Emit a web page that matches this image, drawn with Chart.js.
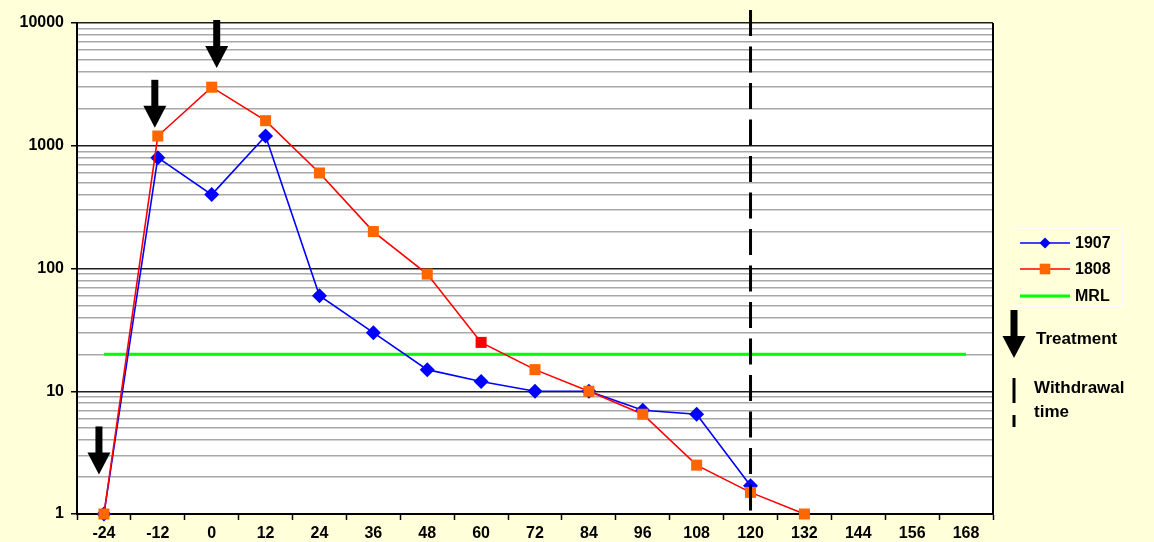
<!DOCTYPE html>
<html>
<head>
<meta charset="utf-8">
<script src="https://cdn.jsdelivr.net/npm/chart.js"></script>
<style>
  html, body { margin: 0; padding: 0; background: #FFFFDA; }
  #wrap { width: 1154px; height: 542px; }
</style>
</head>
<body>
<div id="wrap"><canvas id="residues" width="1154" height="542"></canvas></div>
<script>
// hours relative to last treatment
const hours = ['-24', '-12', '0', '12', '24', '36', '48', '60', '72', '84', '96', '108', '120', '132', '144', '156', '168'];
const animal1907 = [1, 800, 400, 1200, 60, 30, 15, 12, 10, 10, 7, 6.5, 1.7, null, null, null, null];
const animal1808 = [1, 1200, 3000, 1600, 600, 200, 90, 25, 15, 10, 6.5, 2.5, 1.5, 1, null, null, null];
const mrlValues = [20, 20, 20, 20, 20, 20, 20, 20, 20, 20, 20, 20, 20, 20, 20, 20, 20];
const decadeTicks = [1, 10, 100, 1000, 10000];

// treatments (arrows) and withdrawal time (dashed line)
const treatmentHours = ['-24', '-12', '0'];
const arrowTipValues = [2.1, 1400, 4300];
const withdrawalHour = '120';

const FONT = "'Liberation Sans', Arial, sans-serif";

const isDecade = (v) => Math.abs(Math.log10(v) - Math.round(Math.log10(v))) < 1e-9;

function drawArrow(ctx, x, tipY) {
  // shaft 7px wide, head 23px wide, ~48px total
  ctx.fillStyle = '#000';
  ctx.fillRect(x - 3.5, tipY - 48, 7, 27);
  ctx.beginPath();
  ctx.moveTo(x - 11.5, tipY - 22);
  ctx.lineTo(x + 11.5, tipY - 22);
  ctx.lineTo(x, tipY);
  ctx.closePath();
  ctx.fill();
}

function drawMarker(ctx, style, x, y, r, color) {
  ctx.fillStyle = color;
  ctx.beginPath();
  if (style === 'rectRot') {
    ctx.moveTo(x, y - r);
    ctx.lineTo(x + r, y);
    ctx.lineTo(x, y + r);
    ctx.lineTo(x - r, y);
    ctx.closePath();
  } else if (style === 'rect') {
    const s = r * Math.SQRT1_2;
    ctx.rect(x - s, y - s, 2 * s, 2 * s);
  }
  ctx.fill();
}

const plotBackground = {
  id: 'plotBackground',
  beforeDraw(chart) {
    const { ctx, chartArea: a } = chart;
    ctx.save();
    ctx.fillStyle = '#FFFFFF';
    ctx.fillRect(a.left, a.top, a.right - a.left, a.bottom - a.top);
    ctx.restore();
  }
};

const annotations = {
  id: 'annotations',
  afterDraw(chart) {
    const { ctx, chartArea: a } = chart;
    const x = chart.scales.x, y = chart.scales.y;
    ctx.save();

    // right frame
    ctx.strokeStyle = '#000';
    ctx.lineWidth = 2;
    ctx.beginPath();
    ctx.moveTo(a.right, a.top);
    ctx.lineTo(a.right, a.bottom);
    ctx.stroke();

    // withdrawal time
    const wx = x.getPixelForValue(hours.indexOf(withdrawalHour));
    ctx.lineWidth = 3;
    ctx.setLineDash([26, 10.5]);
    ctx.beginPath();
    ctx.moveTo(wx, 10);
    ctx.lineTo(wx, a.bottom);
    ctx.stroke();
    ctx.setLineDash([]);

    // treatment arrows
    const nudge = [-5, -3, 5];
    treatmentHours.forEach((h, i) => {
      drawArrow(ctx, x.getPixelForValue(hours.indexOf(h)) + nudge[i], y.getPixelForValue(arrowTipValues[i]));
    });

    // legend
    ctx.strokeStyle = '#FFFFFF';
    ctx.lineWidth = 1;
    ctx.strokeRect(1013.5, 228.5, 109, 78);
    const rows = [243, 269, 296];
    ctx.font = 'bold 16px ' + FONT;
    ctx.textBaseline = 'middle';
    ctx.textAlign = 'left';
    chart.data.datasets.forEach((ds, i) => {
      const ry = rows[i];
      ctx.strokeStyle = ds.borderColor;
      ctx.lineWidth = ds.borderWidth;
      ctx.beginPath();
      ctx.moveTo(1020, ry);
      ctx.lineTo(1070, ry);
      ctx.stroke();
      if (ds.pointStyle && ds.pointRadius > 0) {
        drawMarker(ctx, ds.pointStyle, 1045, ry, ds.pointStyle === 'rect' ? 7.5 : 5.5, ds.legendColor);
      }
      ctx.fillStyle = '#000';
      ctx.fillText(ds.label, 1075, ry + 1);
    });

    drawArrow(ctx, 1014, 358);
    ctx.font = 'bold 17px ' + FONT;
    ctx.fillStyle = '#000';
    ctx.fillText('Treatment', 1036, 339);

    ctx.lineWidth = 3;
    ctx.strokeStyle = '#000';
    ctx.beginPath();
    ctx.moveTo(1014, 378); ctx.lineTo(1014, 403);
    ctx.moveTo(1014, 415); ctx.lineTo(1014, 427);
    ctx.stroke();
    ctx.fillText('Withdrawal', 1034, 388);
    ctx.fillText('time', 1034, 412);

    ctx.restore();
  }
};

new Chart(document.getElementById('residues'), {
  type: 'line',
  data: {
    labels: hours,
    datasets: [
      {
        label: '1907',
        data: animal1907,
        borderColor: '#0000FF',
        borderWidth: 1.6,
        pointStyle: 'rectRot',
        pointRadius: 7.5,
        pointBackgroundColor: '#0000FF',
        legendColor: '#0000FF',
        pointBorderWidth: 0,
        clip: false,
        order: 1
      },
      {
        label: '1808',
        data: animal1808,
        borderColor: '#FF0000',
        borderWidth: 1.6,
        pointStyle: 'rect',
        pointRadius: 7.8,
        pointBackgroundColor: (c) => c.dataIndex === hours.indexOf('60') ? '#FF0000' : '#FF6600',
        legendColor: '#FF6600',
        pointBorderWidth: 0,
        clip: false,
        order: 0
      },
      {
        label: 'MRL',
        data: mrlValues,
        borderColor: '#00FF00',
        borderWidth: 3,
        pointRadius: 0,
        order: 2
      }
    ]
  },
  options: {
    responsive: false,
    animation: false,
    devicePixelRatio: 1,
    layout: { padding: { left: 0, right: 161, top: 23, bottom: 0 } },
    plugins: { legend: { display: false }, tooltip: { enabled: false } },
    elements: { line: { tension: 0 } },
    scales: {
      x: {
        type: 'category',
        offset: true,
        afterFit: (s) => { s.height = 28; },
        border: { display: true, color: '#000', width: 2 },
        grid: { offset: true, drawOnChartArea: false, drawTicks: true, tickLength: 6, tickColor: '#000', tickWidth: 1.5 },
        ticks: { color: '#000', padding: 4, font: { family: FONT, size: 16, weight: 'bold' }, maxRotation: 0, autoSkip: false }
      },
      y: {
        type: 'logarithmic',
        min: 1,
        max: 10000,
        afterFit: (s) => { s.width = 77; },
        afterBuildTicks: (s) => {
          // keep 1..9 x 10^n only
          s.ticks = s.ticks.filter((t) => {
            const m = t.value / Math.pow(10, Math.floor(Math.log10(t.value) + 1e-9));
            return Math.abs(m - Math.round(m)) < 1e-6;
          });
        },
        border: { display: true, color: '#000', width: 2 },
        grid: {
          color: (c) => (c.tick && isDecade(c.tick.value)) ? '#1E1E1E' : '#A8A8A8',
          lineWidth: 1.5,
          tickLength: 6,
          tickColor: (c) => (c.tick && isDecade(c.tick.value)) ? '#000' : 'rgba(0,0,0,0)'
        },
        ticks: {
          autoSkip: false,
          color: '#000',
          padding: 7,
          font: { family: FONT, size: 16, weight: 'bold' },
          callback: (v) => decadeTicks.includes(v) ? String(v) : ''
        }
      }
    }
  },
  plugins: [plotBackground, annotations]
});
</script>
</body>
</html>
